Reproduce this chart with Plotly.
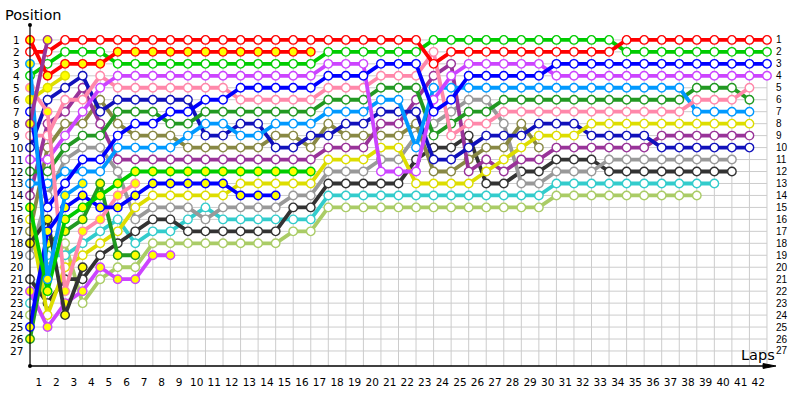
import plotly.graph_objects as go

def rep(v, n):
    return [v] * n

# ---- data: position per lap (lap 0 = grid) ----
laps = list(range(0, 43))
lap_labels = [str(i) for i in range(1, 43)]
positions = list(range(1, 28))

R1 = [2, 2] + rep(1, 21) + [3] + rep(2, 10) + rep(1, 9)
G1 = [4, 3, 2, 2, 2] + rep(3, 12) + rep(2, 6) + rep(1, 11) + rep(2, 9)
R2 = [1, 4, 3, 3, 3] + rep(2, 12)
B1 = [7, 15, 13, 11, 11, 9, 8, 8, 7, 7, 6, 6] + rep(5, 5) + rep(4, 3) + rep(3, 3) + [7, 6] + rep(4, 5) + rep(3, 13)
M1 = [11, 11, 9, 7, 5] + rep(4, 12) + rep(3, 3) + rep(12, 3) + [6, 4] + rep(3, 5) + rep(4, 13)
M2 = [22, 25, 23, 22, 20, 21, 21, 19, 19]
P1 = [9, 9, 6, 6, 4] + rep(5, 7) + rep(6, 5) + rep(5, 3) + rep(4, 3) + [2, 9, 8, 8] + rep(7, 11) + rep(6, 3) + [5]
P2 = [5, 7, 22, 17, 16, 14, 13]
LB1 = [13, 13, 12, 12, 12, 10, 10, 10, 10, 9, 8, 8, 9, 9] + rep(8, 3) + rep(7, 3) + [6, 6, 10, 5, 5] + rep(5, 13) + rep(7, 4)
LB2 = [3, 21, 14, 13]
DG1 = [12, 12, 10, 9, 9, 7, 7, 7, 8, 8] + rep(7, 7) + rep(6, 3) + rep(5, 3) + [9, 8, 7, 7] + rep(6, 11) + rep(5, 3) + [6]
DG2 = [26, 18, 17, 16, 13, 19, 19]
Y1 = [16, 24, 20, 19, 18, 17, 15] + rep(14, 5) + rep(13, 5) + rep(11, 3) + rep(10, 2) + rep(13, 4) + [12, 11, 10] + rep(9, 3) + rep(8, 10)
Y2 = [6, 5, 4]
N1 = [10, 6, 5, 4, 7] + rep(6, 5) + [9, 9, 8, 8, 10, 10, 9, 9, 8, 8, 7, 7, 7, 11, 11, 10, 9, 9, 9, 8, 8, 8] + rep(9, 4) + rep(10, 6)
PU1 = [14, 8, 7, 5, 8] + rep(11, 12) + rep(10, 3) + [8, 8, 6, 4, 3, 12, 11, 12, 11, 11] + rep(10, 6) + rep(9, 6)
PU2 = [8, 1]
GR1 = [19, 14, 11, 10, 10, 12, 16, 15, 15, 15, 16] + rep(15, 4) + [14, 14] + rep(12, 3) + [11, 11, 9, 8, 7, 6, 6, 8, 13, 13, 12, 12, 12] + rep(11, 8)
BK1 = [21, 23, 21, 21, 19, 18, 17, 16, 16, 17] + rep(17, 5) + [15, 15] + rep(13, 3) + [13, 13, 11, 10, 10, 9, 13, 13, 12, 12, 11, 11, 11] + rep(12, 8)
BK2 = [18, 16, 24, 20]
C1 = [23, 19, 19, 18, 17, 16, 18, 17, 17, 16, 15] + rep(16, 6) + rep(14, 13) + rep(13, 10)
LG1 = [24, 20, 18, 23, 21, 20, 20, 18, 18, 18] + rep(18, 5) + [17, 17] + rep(15, 13) + rep(14, 9)
OL1 = [17, 10, 8, 8, 6, 8, 9, 9, 9, 10] + rep(10, 4) + [9, 9, 10, 8, 9, 9, 9, 9, 8, 12, 12, 11, 10, 10, 8, 10]
G2 = [15, 22, 16, 15, 14, 13] + rep(12, 11)
B2 = [25, 17, 15, 14, 15, 15, 14] + rep(13, 5) + rep(14, 3)

RED, GREEN, BLUE = "#ff0000", "#00cc00", "#0000ff"
MAG, PINK, LBLUE = "#cc44ff", "#ff88aa", "#0099ff"
DGREEN, YEL, NAVY = "#229922", "#dddd00", "#1111bb"
PURP, GRAY, BLACK = "#993399", "#999999", "#333333"
CYAN, LGREEN, OLIVE = "#33cccc", "#aacc66", "#888844"
WHITE, YFILL = "#ffffff", "#ffff00"

drivers = [
    (LG1, LGREEN, WHITE), (C1, CYAN, WHITE), (BK1, BLACK, WHITE), (GR1, GRAY, WHITE),
    (OL1, OLIVE, WHITE), (PU1, PURP, WHITE), (N1, NAVY, WHITE), (Y1, YEL, WHITE),
    (DG1, DGREEN, WHITE), (LB1, LBLUE, WHITE), (P1, PINK, WHITE), (M1, MAG, WHITE),
    (B1, BLUE, WHITE), (G1, GREEN, WHITE), (R1, RED, WHITE),
    (M2, MAG, YFILL), (DG2, DGREEN, YFILL), (P2, PINK, YFILL), (BK2, BLACK, YFILL),
    (B2, BLUE, YFILL), (G2, GREEN, YFILL), (LB2, LBLUE, YFILL), (Y2, YEL, YFILL),
    (R2, RED, YFILL), (PU2, PURP, YFILL),
]

fig = go.Figure()

YTOP, YBOT = -0.246, 28.255
GRID = "#cccccc"
shapes = []
for lp in laps:
    shapes.append(dict(type="line", xref="x", yref="y", x0=lp, x1=lp, y0=1, y1=YBOT,
                       line=dict(color=GRID, width=1), layer="below"))
for p in positions:
    shapes.append(dict(type="line", xref="x", yref="y", x0=0, x1=42, y0=p, y1=p,
                       line=dict(color=GRID, width=1), layer="below"))

for vals, col, fill in drivers:
    fig.add_trace(go.Scatter(
        x=laps[:len(vals)], y=vals, mode="lines+markers",
        line=dict(color=col, width=3.8),
        marker=dict(symbol="circle", size=8.5, color=fill, line=dict(color=col, width=1.4)),
        cliponaxis=False, hoverinfo="skip", showlegend=False))

fig.add_trace(go.Scatter(x=[0], y=[1], yaxis="y2", mode="markers",
                         marker=dict(opacity=0), hoverinfo="skip", showlegend=False))

PW, PH = 747.0, 350.0
def px(x):
    return (x - 30) / PW
def py(y):
    return (375 - y) / PH

# axes lines / arrow / dots
shapes.append(dict(type="line", xref="paper", yref="paper", x0=0, x1=0, y0=0, y1=1,
                   line=dict(color="black", width=1.2)))
shapes.append(dict(type="line", xref="paper", yref="paper", x0=0, x1=px(770), y0=0, y1=0,
                   line=dict(color="black", width=1.5)))
shapes.append(dict(type="path", xref="paper", yref="paper",
                   path="M %f %f L %f %f L %f %f Z" % (px(766), py(372.5), px(779), py(375), px(766), py(377.5)),
                   fillcolor="black", line=dict(color="black", width=1)))
for cy in (25, 375):
    shapes.append(dict(type="circle", xref="paper", yref="paper",
                       x0=px(28), x1=px(32), y0=py(cy + 2), y1=py(cy - 2),
                       fillcolor="black", line=dict(color="black", width=0)))

annotations = [
    dict(text="Position", xref="paper", yref="paper", x=px(3), y=py(15),
         xanchor="left", yanchor="middle", showarrow=False,
         font=dict(family="DejaVu Sans", size=14.5, color="black")),
    dict(text="Laps", xref="paper", yref="paper", x=px(742), y=py(363.5),
         xanchor="left", yanchor="middle", showarrow=False,
         font=dict(family="DejaVu Sans", size=14.5, color="black")),
]
for p in positions:
    annotations.append(dict(text=str(p), xref="paper", yref="y", x=px(16.5), y=p,
                            xanchor="center", yanchor="middle", showarrow=False,
                            font=dict(family="DejaVu Sans", size=10.5, color="black")))

fig.update_layout(
    width=800, height=400,
    margin=dict(l=30, r=23, t=25, b=25),
    paper_bgcolor="white", plot_bgcolor="white",
    shapes=shapes,
    xaxis=dict(range=[0, 42.4], tickmode="array", tickvals=[i + 0.5 for i in range(42)],
               ticktext=lap_labels, showgrid=False, zeroline=False, showline=False,
               ticks="", tickfont=dict(family="DejaVu Sans", size=10.5, color="black"),
               ticklabelstandoff=8),
    yaxis=dict(range=[YBOT, YTOP], showticklabels=False, showgrid=False,
               zeroline=False, showline=False, ticks=""),
    yaxis2=dict(range=[YBOT, YTOP], overlaying="y", side="right", tickmode="array",
                tickvals=positions, ticktext=[str(p) for p in positions],
                showgrid=False, zeroline=False, showline=False, ticks="",
                ticklabelstandoff=1,
                tickfont=dict(family="Liberation Sans", size=10, color="black")),
    annotations=annotations,
)

fig.write_html("out.html", config={"displayModeBar": False},
               post_script="document.body.style.margin='0';document.body.style.padding='0';")
